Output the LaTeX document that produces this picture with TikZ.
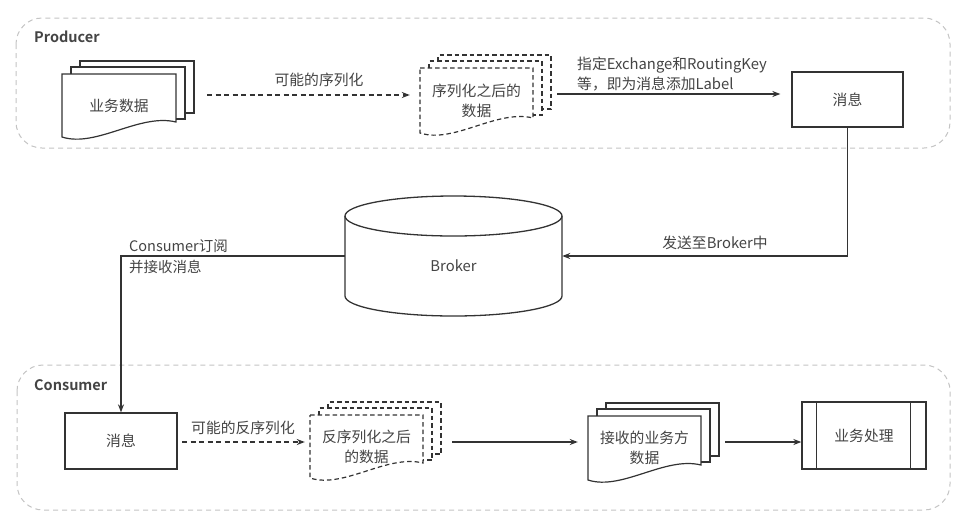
\documentclass[tikz,border=0pt]{standalone}
\usepackage{fontspec}
\setmainfont{Noto Sans CJK SC}[BoldFont={Noto Sans CJK SC Bold}]
\usetikzlibrary{arrows.meta}

\definecolor{ink}{HTML}{333333}
\definecolor{txt}{HTML}{444444}
\definecolor{frame}{HTML}{C4C4C4}

\tikzset{
  every node/.style={font=\fontsize{14.8}{20}\selectfont, text=txt, inner sep=0pt},
  region/.style={draw=frame, line width=1pt, dash pattern=on 5pt off 4pt, rounded corners=26pt},
  regiontitle/.style={font=\fontsize{14.5}{18}\selectfont\bfseries, anchor=west},
  plainbox/.style={draw=ink, line width=1.3pt},
  sheetline/.style={draw=ink, line width=1.2pt},
  sheetdash/.style={draw=ink, line width=1.2pt, dash pattern=on 4.5pt off 3pt},
  sheettext/.style={align=center},
  flow/.style={draw=ink, line width=1.3pt, -{Stealth[length=8pt,width=6pt]}},
  flowdash/.style={draw=ink, line width=1.3pt, dash pattern=on 5pt off 3.5pt, -{Stealth[length=8pt,width=6pt]}},
}

% a stack of three sheets: left, top, width, left-side height, line style
\newcommand\sheetstack[5]{%
  \draw[#5] (#1,#2) -- ({#1+#3},#2) -- ({#1+#3},{#2+#4-15})
    .. controls ({#1+0.68*#3},{#2+#4-24}) and ({#1+0.3*#3},{#2+#4+11}) .. (#1,{#2+#4}) -- cycle;
  \draw[#5] ({#1+9},#2) -- ({#1+9},{#2-7}) -- ({#1+#3+9},{#2-7})
    -- ({#1+#3+9},{#2+#4-18}) -- ({#1+#3},{#2+#4-18});
  \draw[#5] ({#1+18},{#2-7}) -- ({#1+18},{#2-13}) -- ({#1+#3+18},{#2-13})
    -- ({#1+#3+18},{#2+#4-24}) -- ({#1+#3+9},{#2+#4-24});
}

\begin{document}
\begin{tikzpicture}[x=1pt, y=-1pt]
  \fill[white] (0,0) rectangle (971,515);
  \useasboundingbox (0,0) rectangle (971,515);

  % ---------- regions ----------
  \draw[region] (16,18) rectangle (950,148);
  \draw[region] (17,365) rectangle (950,510);
  \node[regiontitle] (prodtitle) at (34,37) {Producer};
  \node[regiontitle] (constitle) at (34,385) {Consumer};

  % ---------- producer side ----------
  \sheetstack{62}{74}{114}{63}{sheetline}
  \node[sheettext, minimum width=114pt, minimum height=63pt] (bizA) at (119,105.5) {业务数据};

  \sheetstack{420}{68}{113}{65}{sheetdash}
  \node[sheettext, minimum width=113pt, minimum height=65pt] (serA) at (476.5,100.5) {序列化之后的\\数据};

  \node[plainbox, minimum width=111pt, minimum height=55pt] (msgP) at (847.5,99.5) {消息};

  \coordinate (p1) at (207,95);
  \coordinate (p2) at (557,94);
  \draw[flowdash, shorten >=10pt] (p1) -- (p1 -| serA.west);
  \draw[flow, shorten >=11pt] (p2) -- (p2 -| msgP.west);
  \node (lblSer) at (319,80) {可能的序列化};
  \node[anchor=west, align=left] (lblKey) at (577,74) {指定Exchange和RoutingKey\\等，即为消息添加Label};

  % ---------- broker ----------
  \node[minimum width=217pt, minimum height=120pt] (broker) at (453.5,256) {};
  \node (brokerName) at (453.5,266) {Broker};
  \draw[plainbox] (453.5,216) ellipse [x radius=108.5, y radius=20];
  \draw[plainbox] (345,216) -- (345,296)
    .. controls (345,307) and (393.6,316) .. (453.5,316)
    .. controls (513.4,316) and (562,307) .. (562,296) -- (562,216);

  \draw[flow] (msgP.south) |- (broker.east);
  \node (lblSend) at (715,243) {发送至Broker中};

  % ---------- consumer side ----------
  \node[plainbox, minimum width=112pt, minimum height=56pt] (msgC) at (121,441) {消息};
  \draw[flow] (broker.west) -| (msgC.north);
  \node[anchor=west, align=left, font=\fontsize{14.5}{21}\selectfont] (lblSub) at (129,256.5) {Consumer订阅\\并接收消息};

  \sheetstack{310}{415}{113}{63}{sheetdash}
  \node[sheettext, minimum width=113pt, minimum height=63pt] (serC) at (366.5,446.5) {反序列化之后\\的数据};

  \sheetstack{588}{416}{113}{64}{sheetline}
  \node[sheettext, minimum width=113pt, minimum height=64pt] (bizC) at (644.5,448) {接收的业务方\\数据};

  \node[plainbox, minimum width=124pt, minimum height=67pt] (proc) at (864,435.5) {业务处理};
  \draw[plainbox] ([xshift=15pt]proc.north west) -- ([xshift=15pt]proc.south west);
  \draw[plainbox] ([xshift=-16pt]proc.north east) -- ([xshift=-16pt]proc.south east);

  \coordinate (c1) at (182,442);
  \coordinate (c2) at (452,442);
  \coordinate (c3) at (725,442);
  \draw[flowdash, shorten >=5pt] (c1) -- (c1 -| serC.west);
  \draw[flow, shorten >=10pt] (c2) -- (c2 -| bizC.west);
  \draw[flow] (c3) -- (c3 -| proc.west);
  \node (lblDeser) at (243,428) {可能的反序列化};
\end{tikzpicture}
\end{document}
